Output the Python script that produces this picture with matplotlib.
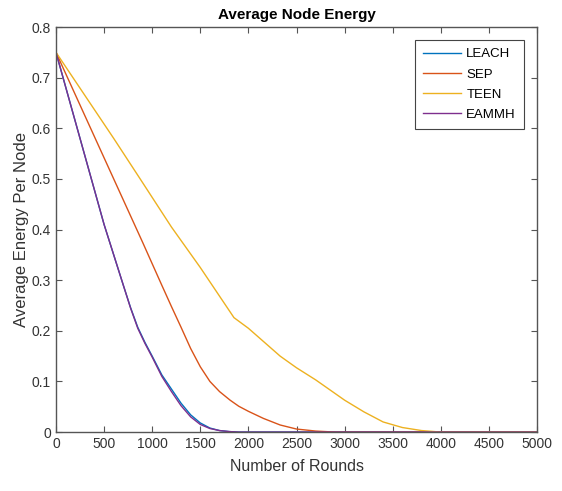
import matplotlib
matplotlib.use('Agg')
import matplotlib.pyplot as plt

plt.rcParams['font.family'] = ['Liberation Sans', 'DejaVu Sans']

# rounds and average energy per node
leach_x = [0, 250, 500, 700, 775, 850, 925, 1000, 1100, 1200, 1300, 1400, 1500, 1600, 1700, 1800, 1900, 5000]
leach_y = [0.75, 0.58, 0.41, 0.29, 0.246, 0.207, 0.177, 0.150, 0.113, 0.085, 0.057, 0.034, 0.018, 0.008, 0.003, 0.001, 0.0, 0.0]

sep_x = [0, 300, 600, 900, 1100, 1200, 1300, 1400, 1500, 1600, 1700, 1810, 1900, 2000, 2156, 2330, 2500, 2700, 2900, 5000]
sep_y = [0.75, 0.625, 0.50, 0.375, 0.29, 0.248, 0.207, 0.165, 0.129, 0.100, 0.080, 0.063, 0.051, 0.041, 0.027, 0.014, 0.006, 0.002, 0.0, 0.0]

teen_x = [0, 600, 875, 1200, 1500, 1850, 2000, 2330, 2500, 2700, 3000, 3200, 3400, 3600, 3800, 4000, 5000]
teen_y = [0.75, 0.58, 0.50, 0.405, 0.325, 0.226, 0.205, 0.15, 0.127, 0.103, 0.063, 0.040, 0.020, 0.009, 0.003, 0.0, 0.0]

eammh_x = [0, 250, 500, 700, 775, 850, 925, 1000, 1100, 1200, 1300, 1400, 1500, 1600, 1700, 1800, 1900, 5000]
eammh_y = [0.75, 0.58, 0.41, 0.29, 0.245, 0.205, 0.175, 0.148, 0.110, 0.080, 0.052, 0.030, 0.015, 0.007, 0.003, 0.001, 0.0, 0.0]

x_ticks = list(range(0, 5001, 500))
y_ticks = [0, 0.1, 0.2, 0.3, 0.4, 0.5, 0.6, 0.7, 0.8]
y_labels = ['0', '0.1', '0.2', '0.3', '0.4', '0.5', '0.6', '0.7', '0.8']

fig = plt.figure(figsize=(5.62, 4.91), dpi=100)
ax = fig.add_axes([0.0996, 0.120, 0.856, 0.825])

ax.plot(leach_x, leach_y, color='#0072BD', lw=1.0, label='LEACH')
ax.plot(sep_x, sep_y, color='#D95319', lw=1.0, label='SEP')
ax.plot(teen_x, teen_y, color='#EDB120', lw=1.0, label='TEEN')
ax.plot(eammh_x, eammh_y, color='#7E2F8E', lw=1.0, label='EAMMH')

ax.set_xlim(0, 5000)
ax.set_ylim(0, 0.8)
ax.set_xticks(x_ticks)
ax.set_yticks(y_ticks)
ax.set_yticklabels(y_labels)

# matlab style box and inward ticks
axis_col = '#555555'
for s in ax.spines.values():
    s.set_color(axis_col)
    s.set_linewidth(1.0)
ax.tick_params(direction='in', top=True, right=True, length=4, width=0.8,
               color=axis_col, labelcolor='#333333', labelsize=10)

ax.set_title('Average Node Energy', fontsize=11, fontweight='bold', pad=6)
ax.set_xlabel('Number of Rounds', fontsize=11.5, color='#333333', labelpad=6)
ax.set_ylabel('Average Energy Per Node', fontsize=12, color='#333333', labelpad=2)

leg = ax.legend(loc='upper right', fontsize=9.5, handlelength=2.9, handletextpad=0.4,
                fancybox=False, framealpha=1, edgecolor='#444444', borderpad=0.6,
                labelspacing=0.6, borderaxespad=1.0)
leg.get_frame().set_linewidth(0.8)

fig.savefig('out.png', dpi=100)
